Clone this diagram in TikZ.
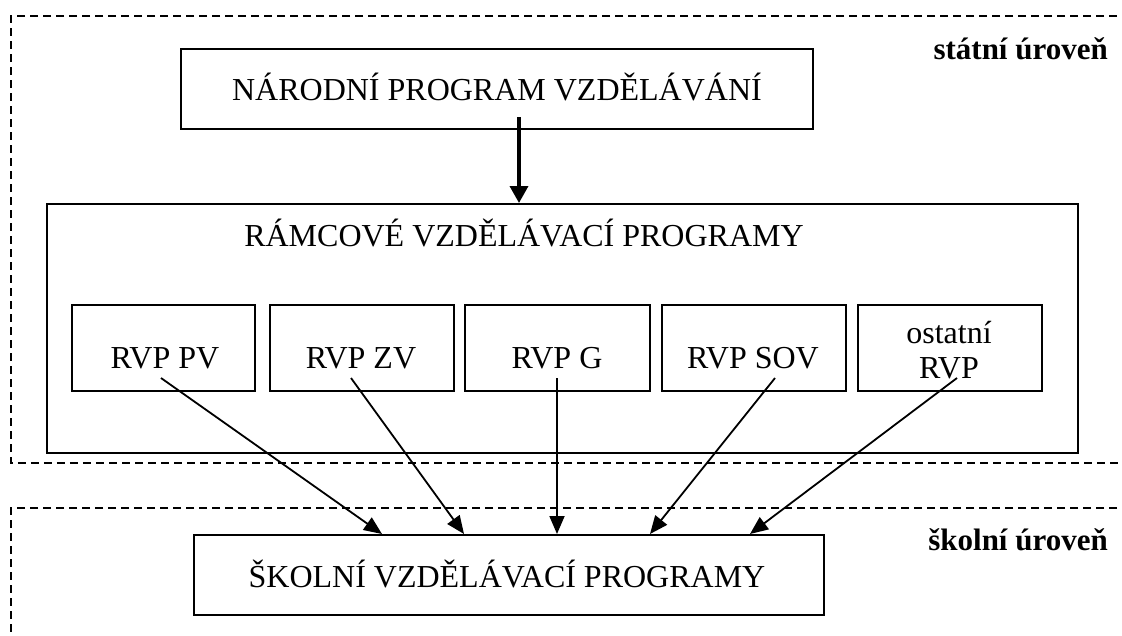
\documentclass[tikz,border=0pt]{standalone}
\usepackage{fontspec}
\setmainfont{Liberation Serif}
\usetikzlibrary{arrows.meta}
\tikzset{
  box/.style={draw, line width=2pt, inner sep=0pt, anchor=north west},
  zone/.style={line width=2pt, dash pattern=on 8pt off 5pt},
  txt/.style={font=\fontsize{32}{36}\selectfont, anchor=base, inner sep=0pt},
  lvl/.style={font=\fontsize{31}{36}\selectfont\bfseries, anchor=base east, inner sep=0pt},
  conn/.style={line width=1.8pt, -{Triangle[length=18pt,width=15pt]}},
  thick conn/.style={line width=3.5pt, -{Triangle[length=17pt,width=18pt]}}
}
\begin{document}
\begin{tikzpicture}[x=1pt,y=-1pt]
\useasboundingbox (0,0) rectangle (1122,635);
% level zones
\draw[zone] (1130,16) -- (11,16) -- (11,463) -- (1130,463);
\draw[zone] (1130,508) -- (11,508) -- (11,645);
\node[lvl] (statni) at (1108,59) {státní úroveň};
\node[lvl] (skolniur) at (1108,550) {školní úroveň};
% boxes
\node[box, minimum width=632pt, minimum height=80pt] (npv) at (180,48) {};
\node[box, minimum width=1031pt, minimum height=249pt] (rvp) at (46,203) {};
\node[box, minimum width=183pt, minimum height=86pt] (pv) at (71,304) {};
\node[box, minimum width=184pt, minimum height=86pt] (zv) at (269,304) {};
\node[box, minimum width=185pt, minimum height=86pt] (g) at (464,304) {};
\node[box, minimum width=184pt, minimum height=86pt] (sov) at (661,304) {};
\node[box, minimum width=184pt, minimum height=86pt] (ost) at (857,304) {};
\node[box, minimum width=630pt, minimum height=80pt] (svp) at (193,534) {};
% texts
\node[txt] (tnpv) at (497,100) {NÁRODNÍ PROGRAM VZDĚLÁVÁNÍ};
\node[txt] (trvp) at (524,246) {RÁMCOVÉ VZDĚLÁVACÍ PROGRAMY};
\node[txt] (tpv) at (165,368) {RVP PV};
\node[txt] (tzv) at (361,368) {RVP ZV};
\node[txt] (tg) at (557,368) {RVP G};
\node[txt] (tsov) at (753,368) {RVP SOV};
\node[txt] (tost1) at (949,343) {ostatní};
\node[txt] (tost2) at (949,378) {RVP};
\node[txt] (tsvp) at (507,587) {ŠKOLNÍ VZDĚLÁVACÍ PROGRAMY};
% connectors
\coordinate (a0) at (519,117);
\coordinate (a1) at (161,378);
\coordinate (a2) at (351,378);
\coordinate (a3) at (557,378);
\coordinate (a4) at (775,378);
\coordinate (a5) at (957,378);
\coordinate (b1) at (382,534);
\coordinate (b2) at (464,534);
\coordinate (b3) at (557,534);
\coordinate (b4) at (650,534);
\coordinate (b5) at (750,534);
\draw[thick conn] (a0) -- (a0 |- rvp.north);
\draw[conn] (a1) -- (b1);
\draw[conn] (a2) -- (b2);
\draw[conn] (a3) -- (b3);
\draw[conn] (a4) -- (b4);
\draw[conn] (a5) -- (b5);
\end{tikzpicture}
\end{document}
